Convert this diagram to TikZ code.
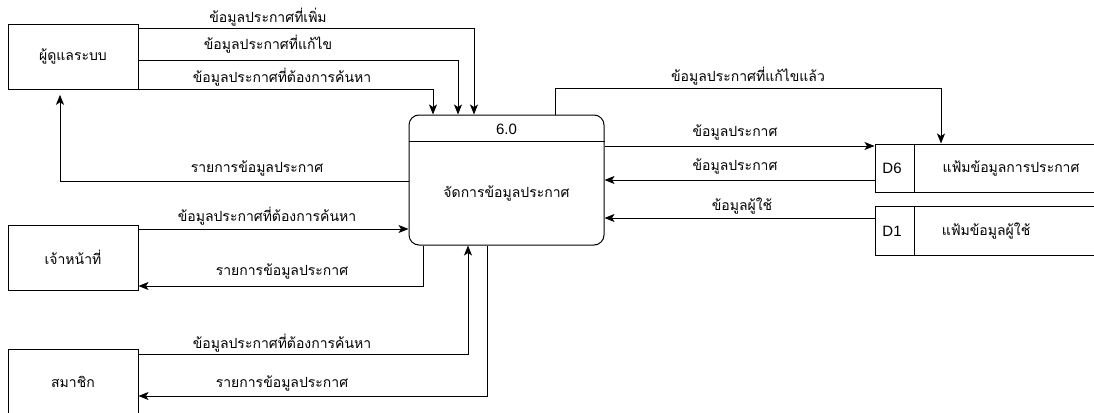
\documentclass[tikz,border=0pt]{standalone}
\usepackage{fontspec}
\setmainfont{Liberation Sans}
\newfontfamily\thai[Script=Thai]{Loma}
\usetikzlibrary{arrows.meta}
\begin{document}
\begin{tikzpicture}[x=1pt,y=-1pt,
  box/.style={draw,line width=1pt,inner sep=0pt,font=\thai\fontsize{14}{16}\selectfont},
  flow/.style={draw,line width=1pt,-{Stealth[length=10pt,width=8pt,inset=2.5pt]}},
  plain/.style={draw,line width=1pt},
  lbl/.style={inner sep=0pt,font=\thai\fontsize{14}{16}\selectfont},
  num/.style={inner sep=0pt,font=\fontsize{15}{17}\selectfont}]
\useasboundingbox (0,0) rectangle (1094,412);
% external entities
\node[box,minimum width=130pt,minimum height=65pt] (admin) at (73,56.8) {ผู้ดูแลระบบ};
\node[box,minimum width=130pt,minimum height=65pt] (staff) at (73,257.5) {เจ้าหน้าที่};
\node[box,minimum width=130pt,minimum height=65pt] (member) at (73,381.5) {สมาชิก};
% process
\node[box,rounded corners=10pt,minimum width=195pt,minimum height=130pt] (proc) at (506.5,180) {};
\draw[plain] (proc.west |- 0,141.5) -- (proc.east |- 0,141.5);
\node[num] (pnum) at (506.5,129) {6.0};
\node[lbl] (pname) at (506.5,193) {จัดการข้อมูลประกาศ};
% data stores
\node[box,minimum width=225pt,minimum height=48pt] (d6) at (987.5,168) {};
\draw[plain] (d6.north -| 914,0) -- (d6.south -| 914,0);
\node[num] (d6id) at (892,168.7) {D6};
\node[lbl] (d6name) at (1011,168.5) {แฟ้มข้อมูลการประกาศ};
\node[box,minimum width=225pt,minimum height=49pt] (d1) at (987.5,230.5) {};
\draw[plain] (d1.north -| 914,0) -- (d1.south -| 914,0);
\node[num] (d1id) at (892,231) {D1};
\node[lbl] (d1name) at (986,231) {แฟ้มข้อมูลผู้ใช้};
% flows admin
\draw[flow] (admin.east |- 0,28.3) -| (proc.north -| 474,0);
\node[lbl] (l1) at (268,17) {ข้อมูลประกาศที่เพิ่ม};
\draw[flow] (admin.east |- 0,60.5) -| (proc.north -| 458,0);
\node[lbl] (l2) at (268,44) {ข้อมูลประกาศที่แก้ไข};
\draw[flow] (admin.south east) -| (proc.north -| 433,0);
\node[lbl] (l3) at (282,77) {ข้อมูลประกาศที่ต้องการค้นหา};
\draw[flow,shorten >=5pt] (proc.west |- 0,181) -| (admin.south -| 60,0);
\node[lbl] (l4) at (257,168) {รายการข้อมูลประกาศ};
% flows staff
\draw[flow] (staff.east |- 0,229) -- (proc.west |- 0,229);
\node[lbl] (l5) at (267,216) {ข้อมูลประกาศที่ต้องการค้นหา};
\draw[flow] (proc.south -| 423,0) |- (staff.east |- 0,286);
\node[lbl] (l6) at (282,271) {รายการข้อมูลประกาศ};
% flows member
\draw[flow] (member.east |- 0,354) -| (proc.south -| 468,0);
\node[lbl] (l7) at (282,343) {ข้อมูลประกาศที่ต้องการค้นหา};
\draw[flow] (proc.south -| 487,0) |- (member.east |- 0,396);
\node[lbl] (l8) at (282,383) {รายการข้อมูลประกาศ};
% flows stores
\draw[flow] (proc.north -| 555,0) |- (941,88) -- (d6.north -| 941,0);
\node[lbl] (l9) at (748,76) {ข้อมูลประกาศที่แก้ไขแล้ว};
\draw[flow] (proc.east |- 0,146) -- (d6.west |- 0,146);
\node[lbl] (l10) at (735,132) {ข้อมูลประกาศ};
\draw[flow] (d6.west |- 0,180) -- (proc.east |- 0,180);
\node[lbl] (l11) at (735,166) {ข้อมูลประกาศ};
\draw[flow] (d1.west |- 0,218) -- (proc.east |- 0,218);
\node[lbl] (l12) at (742,206) {ข้อมูลผู้ใช้};
\end{tikzpicture}
\end{document}
